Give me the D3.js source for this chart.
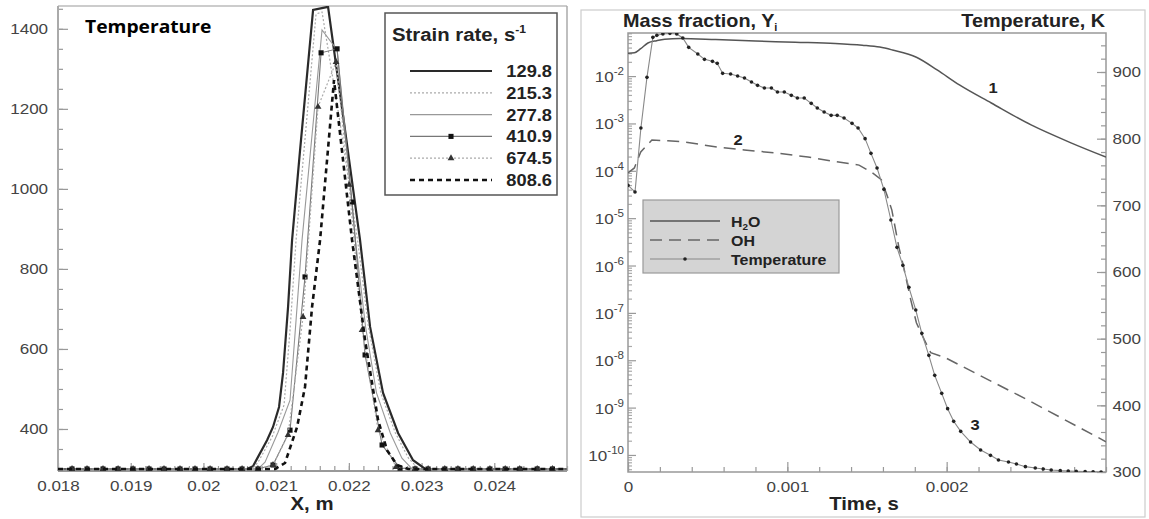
<!DOCTYPE html>
<html><head><meta charset="utf-8">
<script src="https://cdn.jsdelivr.net/npm/d3@7"></script>
<style>body{margin:0;background:#fff} svg{display:block}</style>
</head><body><svg id="c" width="1149" height="519"></svg>
<script>
// ================= DATA: left panel (Temperature vs X) =================
const strainRates = ["129.8","215.3","277.8","410.9","674.5","808.6"];
const sr1_x = [0.0180,0.0206,0.020682,0.020875,0.020957,0.02104,0.021095,0.021164,0.021219,0.021329,0.021508,0.021714,0.021934,0.022154,0.022292,0.02247,0.022677,0.022883,0.02305,0.0250];
const sr1_T = [300,300,307,372,405,455,540,705,872,1097,1447,1455,1165,872,655,490,390,322,300,300];
const sr2_x = [0.0180,0.020669,0.020751,0.020944,0.021109,0.021191,0.021274,0.021549,0.021631,0.021879,0.02212,0.02227,0.02244,0.02264,0.02282,0.02296,0.0250];
const sr2_T = [300,300,317,380,460,647,872,1437,1442,1165,872,655,490,390,327,300,300];
const sr3_x = [0.0180,0.020751,0.020847,0.021026,0.021191,0.021274,0.021356,0.021631,0.021838,0.02209,0.02223,0.02238,0.02257,0.02273,0.02287,0.0250];
const sr3_T = [300,300,317,392,472,672,872,1397,1347,872,655,490,390,327,300,300];
const sr4_x = [0.018193,0.018399,0.018619,0.018826,0.019032,0.019252,0.019458,0.019678,0.019884,0.020091,0.020324,0.020531,0.02075,0.020957,0.021191,0.021397,0.021618,0.021838,0.022044,0.022223,0.022457,0.022704,0.02291,0.02309,0.02332,0.0235,0.02371,0.02394,0.02415,0.02435,0.02459,0.0248];
const sr4_T = [300,300,300,300,300,300,300,300,300,300,300,300,300,310,397,780,1340,1350,967,585,360,302,300,300,300,300,300,300,300,300,300,300];
const sr5_x = [0.018193,0.018399,0.018619,0.018826,0.019032,0.019252,0.019458,0.019678,0.019884,0.020091,0.020324,0.020531,0.02075,0.020957,0.021164,0.02137,0.021576,0.021824,0.022003,0.022182,0.022402,0.022649,0.02291,0.02309,0.02332,0.0235,0.02371,0.02394,0.02415,0.02435,0.02459,0.0248];
const sr5_T = [300,300,300,300,300,300,300,300,300,300,300,300,300,310,385,680,1205,1317,1010,647,397,305,300,300,300,300,300,300,300,300,300,300];
const sr6_x = [0.0180,0.020985,0.021122,0.021288,0.021397,0.021494,0.021604,0.0217,0.021796,0.02192,0.022044,0.022223,0.022402,0.022525,0.022663,0.022814,0.0250];
const sr6_T = [300,300,315,405,505,705,872,1072,1272,1072,872,622,422,347,310,300,300];

const leftXTicks = [0.018,0.019,0.02,0.021,0.022,0.023,0.024];
const leftXTickLabels = ["0.018","0.019","0.02","0.021","0.022","0.023","0.024"];
const leftYTicks = [400,600,800,1000,1200,1400];

// ================= DATA: right panel (Mass fraction / Temperature vs time) =================
const h2o_t = [0,0.00004,0.00008,0.000125,0.00018,0.00023,0.00033,0.00055,0.0008,0.00105,0.0013,0.00147,0.00158,0.00166,0.00181,0.00194,0.00208,0.00228,0.00253,0.00278,0.003];
const h2o_Y = [3.05e-2,3.1e-2,3.8e-2,5.0e-2,5.6e-2,6.0e-2,6.2e-2,5.9e-2,5.5e-2,5.2e-2,4.9e-2,4.5e-2,4.1e-2,3.55e-2,2.5e-2,1.35e-2,6.5e-3,2.7e-3,9.3e-4,3.9e-4,1.95e-4];
const oh_t = [0,0.00004,0.00008,0.00015,0.00025,0.00035,0.00056,0.00073,0.00092,0.00113,0.00131,0.00145,0.00153,0.00159,0.001625,0.001656,0.0017,0.00173,0.001775,0.00181,0.00186,0.0019,0.001994,0.0025,0.003];
const oh_Y = [9e-5,1.15e-4,2.5e-4,4.47e-4,4.3e-4,4.1e-4,3.16e-4,2.75e-4,2.4e-4,1.95e-4,1.55e-4,1.32e-4,9.3e-5,6.5e-5,3.1e-5,1.48e-5,2.45e-6,9.3e-7,1.86e-7,6.2e-8,2.7e-8,1.45e-8,1.12e-8,1.5e-9,1.9e-10];
const temp_t = [0,0.000044,0.000081,0.000119,0.000156,0.000181,0.000219,0.000263,0.000306,0.000344,0.000381,0.000438,0.00048,0.00053,0.00056,0.000594,0.000644,0.000688,0.000731,0.000775,0.000813,0.000856,0.0009,0.000938,0.000981,0.001025,0.001063,0.001106,0.00115,0.001188,0.001231,0.001275,0.001313,0.001356,0.001406,0.001444,0.001488,0.001525,0.001563,0.001606,0.00165,0.001688,0.001725,0.001763,0.001806,0.001844,0.001888,0.001925,0.001969,0.002006,0.002044,0.002088,0.00215,0.002213,0.002275,0.002325,0.002388,0.002438,0.002494,0.002556,0.002606,0.002656,0.002713,0.002763,0.002813,0.002869,0.002919,0.002969];
const temp_T = [730,720,816,892,952,955,957,958,957,951,937,927,919,916,913,898,897,894,891,885,880,876,876,870,870,865,861,861,853,846,840,835,835,831,823,816,800,778,756,724,678,637,610,577,543,508,475,445,418,395,376,361,345,333,325,318,315,312,308,306,304.5,303,302,301.5,301,300.6,300.3,300.1];
const rightXTicks = [0,0.001,0.002];
const rightXTickLabels = ["0","0.001","0.002"];
const logTickExps = [-10,-9,-8,-7,-6,-5,-4,-3,-2];
const tempTicks = [300,400,500,600,700,800,900];
const speciesNames = ["H2O","OH","Temperature"];

// ================= DRAWING =================
const SX = 1.1;
const FONT = "'Liberation Sans', Arial, Helvetica, sans-serif";
const svg = d3.select("#c");

function addText(parent, x, y, str, size, weight, anchor, fill, family) {
  return parent.append("text")
    .attr("transform", `translate(${x},${y}) scale(${SX},1)`)
    .attr("text-anchor", anchor || "start")
    .style("font-family", family || FONT)
    .style("font-size", size + "px")
    .style("font-weight", weight || "normal")
    .style("fill", fill || "#222")
    .text(str);
}
function styleAxis(g, col) {
  g.select(".domain").remove();
  g.selectAll(".tick line").attr("stroke", col || "#999").attr("stroke-width", 1.2);
  g.selectAll(".tick text")
    .attr("transform", `scale(${SX},1)`)
    .style("font-family", FONT).style("font-size", "15.5px").style("fill", "#444");
}

// ---------------- Left panel ----------------
const xL = d3.scaleLinear().domain([0.018, 0.025]).range([58, 567]);
const yL = d3.scaleLinear().domain([295, 1457]).range([471, 6]);
const gL = svg.append("g");

gL.append("clipPath").attr("id", "clipL").append("rect")
  .attr("x", 58).attr("y", 6).attr("width", 509).attr("height", 465);

// axes
const minorYL = d3.range(300, 1451, 50);
styleAxis(gL.append("g").attr("transform", "translate(58,0)")
  .call(d3.axisLeft(yL).tickValues(minorYL).tickSize(-5).tickFormat("")));
styleAxis(gL.append("g").attr("transform", "translate(58,0)")
  .call(d3.axisLeft(yL).tickValues(leftYTicks).tickSize(-10).tickPadding(9).tickFormat(d3.format("d"))));
const minorXL = d3.range(0, 36).map(i => 0.018 + i * 0.0002);
styleAxis(gL.append("g").attr("transform", "translate(0,471)")
  .call(d3.axisBottom(xL).tickValues(minorXL).tickSize(-5).tickFormat("")));
const axXL = gL.append("g").attr("transform", "translate(0,471)")
  .call(d3.axisBottom(xL).tickValues(leftXTicks).tickSize(-8).tickPadding(9)
    .tickFormat((d, i) => leftXTickLabels[i]));
styleAxis(axXL);

// frame
gL.append("line").attr("x1", 58).attr("x2", 567).attr("y1", 6).attr("y2", 6).attr("stroke", "#bbb").attr("stroke-width", 1.5);
gL.append("line").attr("x1", 567).attr("x2", 567).attr("y1", 6).attr("y2", 471).attr("stroke", "#aaa").attr("stroke-width", 1.5);
gL.append("line").attr("x1", 58).attr("x2", 58).attr("y1", 6).attr("y2", 471).attr("stroke", "#aaa").attr("stroke-width", 2);
gL.append("line").attr("x1", 58).attr("x2", 567).attr("y1", 471).attr("y2", 471).attr("stroke", "#999").attr("stroke-width", 2);

const leftSeries = [
  {x: sr1_x, y: sr1_T, stroke: "#2a2a2a", w: 2.2, dash: null, marker: null},
  {x: sr2_x, y: sr2_T, stroke: "#aaaaaa", w: 1.2, dash: "2,2", marker: null},
  {x: sr3_x, y: sr3_T, stroke: "#999999", w: 1.1, dash: null, marker: null},
  {x: sr4_x, y: sr4_T, stroke: "#777777", w: 1.1, dash: null, marker: "square"},
  {x: sr5_x, y: sr5_T, stroke: "#aaaaaa", w: 1.2, dash: "2,2", marker: "triangle"},
  {x: sr6_x, y: sr6_T, stroke: "#111111", w: 2.6, dash: "5,4", marker: null}
];
const lineL = d3.line().x(d => xL(d[0])).y(d => yL(d[1]));
const plotL = gL.append("g").attr("clip-path", "url(#clipL)");
const symSq = d3.symbol().type(d3.symbolSquare).size(26);
const symTr = d3.symbol().type(d3.symbolTriangle).size(20);
leftSeries.forEach(s => {
  const pts = s.x.map((v, i) => [v, s.y[i]]);
  plotL.append("path").datum(pts).attr("d", lineL)
    .attr("fill", "none").attr("stroke", s.stroke).attr("stroke-width", s.w)
    .attr("stroke-dasharray", s.dash);
  if (s.marker) {
    plotL.selectAll(null).data(pts).enter().append("path")
      .attr("d", s.marker === "square" ? symSq : symTr)
      .attr("transform", d => `translate(${xL(d[0])},${yL(d[1])})`)
      .attr("fill", s.marker === "square" ? "#111" : "#333");
  }
});

addText(gL, 85, 33, "Temperature", 17.5, "bold", "start", "#000", "'Open Sans', 'Noto Sans', sans-serif");
addText(gL, 312, 510, "X, m", 18.5, "bold", "middle", "#222");

// legend left
const lg = gL.append("g");
lg.append("rect").attr("x", 385).attr("y", 13).attr("width", 172).attr("height", 182)
  .attr("fill", "#fff").attr("stroke", "#555").attr("stroke-width", 1.5);
const ttl = addText(lg, 392, 41, "Strain rate, s", 18.5, "bold", "start", "#222");
ttl.append("tspan").attr("dy", -8).style("font-size", "11px").text("-1");
strainRates.forEach((r, i) => {
  const yy = 71 + i * 21.8;
  const s = leftSeries[i];
  lg.append("line").attr("x1", 410).attr("x2", 492).attr("y1", yy).attr("y2", yy)
    .attr("stroke", s.stroke).attr("stroke-width", s.w).attr("stroke-dasharray", s.dash);
  if (s.marker) {
    lg.append("path").attr("d", s.marker === "square" ? symSq : symTr)
      .attr("transform", `translate(451,${yy})`).attr("fill", s.marker === "square" ? "#111" : "#333");
  }
  addText(lg, 552, yy + 6, r, 16.6, "bold", "end", "#222");
});

// ---------------- Right panel ----------------
const gR = svg.append("g");
gR.append("rect").attr("x", 581).attr("y", 10).attr("width", 564).attr("height", 507)
  .attr("fill", "none").attr("stroke", "#ccc").attr("stroke-width", 1.2);

const xR = d3.scaleLinear().domain([0, 0.003]).range([628, 1106]);
const yLog = d3.scaleLog().domain([Math.pow(10, -10.36), Math.pow(10, -1.09)]).range([472, 33]);
const yT = d3.scaleLinear().domain([300, 958.5]).range([472, 33]);

gR.append("clipPath").attr("id", "clipR").append("rect")
  .attr("x", 628).attr("y", 33).attr("width", 478).attr("height", 439);

// log minor ticks
const logMinor = [];
for (let e = -11; e <= -1; e++) for (let m = 2; m <= 9; m++) {
  const v = m * Math.pow(10, e);
  if (v > yLog.domain()[0] && v < yLog.domain()[1]) logMinor.push(v);
}
styleAxis(gR.append("g").attr("transform", "translate(628,0)")
  .call(d3.axisLeft(yLog).tickValues(logMinor).tickSize(-4).tickFormat("")), "#aaa");
const majVals = logTickExps.map(e => Math.pow(10, e));
styleAxis(gR.append("g").attr("transform", "translate(628,0)")
  .call(d3.axisLeft(yLog).tickValues(majVals).tickSize(-8).tickFormat("")));
logTickExps.forEach(e => {
  const t = addText(gR, 624, yLog(Math.pow(10, e)) + 6, "10", 15.5, "normal", "end", "#444");
  t.append("tspan").attr("dy", -7).style("font-size", "10.5px").text(String(e));
});

// right T axis
const tMinor = d3.range(300, 951, 20);
styleAxis(gR.append("g").attr("transform", "translate(1106,0)")
  .call(d3.axisRight(yT).tickValues(tMinor).tickSize(-5).tickFormat("")));
styleAxis(gR.append("g").attr("transform", "translate(1106,0)")
  .call(d3.axisRight(yT).tickValues(tempTicks).tickSize(-9).tickPadding(6).tickFormat(d3.format("d"))));

// x axis
const minorXR = d3.range(0, 16).map(i => i * 0.0002);
styleAxis(gR.append("g").attr("transform", "translate(0,472)")
  .call(d3.axisBottom(xR).tickValues(minorXR).tickSize(-5).tickFormat("")));
styleAxis(gR.append("g").attr("transform", "translate(0,472)")
  .call(d3.axisBottom(xR).tickValues(rightXTicks).tickSize(-10).tickPadding(9)
    .tickFormat((d, i) => rightXTickLabels[i])));

// frame
gR.append("rect").attr("x", 628).attr("y", 33).attr("width", 478).attr("height", 439)
  .attr("fill", "none").attr("stroke", "#999").attr("stroke-width", 1.5);

const plotR = gR.append("g").attr("clip-path", "url(#clipR)");
const h2oPts = h2o_t.map((t, i) => [t, h2o_Y[i]]);
const ohPts = oh_t.map((t, i) => [t, oh_Y[i]]);
const tPts = temp_t.map((t, i) => [t, temp_T[i]]);
const lineLogSmooth = d3.line().x(d => xR(d[0])).y(d => yLog(d[1])).curve(d3.curveMonotoneX);
const lineLog = d3.line().x(d => xR(d[0])).y(d => yLog(d[1]));
const lineTemp = d3.line().x(d => xR(d[0])).y(d => yT(d[1]));
plotR.append("path").datum(h2oPts).attr("d", lineLogSmooth).attr("fill", "none")
  .attr("stroke", "#555").attr("stroke-width", 1.5);
plotR.append("path").datum(ohPts).attr("d", lineLog).attr("fill", "none")
  .attr("stroke", "#666").attr("stroke-width", 1.5).attr("stroke-dasharray", "12,7");
plotR.append("path").datum(tPts).attr("d", lineTemp).attr("fill", "none")
  .attr("stroke", "#888").attr("stroke-width", 1.1);
plotR.selectAll(null).data(tPts).enter().append("circle")
  .attr("cx", d => xR(d[0])).attr("cy", d => yT(d[1])).attr("r", 1.8).attr("fill", "#222");

// titles
const mf = addText(gR, 623, 27, "Mass fraction, Y", 18, "bold", "start", "#222");
mf.append("tspan").attr("dy", 4).style("font-size", "10px").text("i");
addText(gR, 1105, 27, "Temperature, K", 18, "bold", "end", "#222");
addText(gR, 864, 510, "Time, s", 18.5, "bold", "middle", "#222");
addText(gR, 993, 93, "1", 15, "bold", "middle", "#222");
addText(gR, 738, 145, "2", 15, "bold", "middle", "#222");
addText(gR, 975, 430, "3", 15, "bold", "middle", "#222");

// legend right
const lgR = gR.append("g");
lgR.append("rect").attr("x", 643).attr("y", 200).attr("width", 196).attr("height", 73)
  .attr("fill", "#d4d4d4").attr("stroke", "#999").attr("stroke-width", 1.2);
const legRowsY = [221, 240, 259];
lgR.append("line").attr("x1", 650).attr("x2", 720).attr("y1", legRowsY[0]).attr("y2", legRowsY[0])
  .attr("stroke", "#555").attr("stroke-width", 1.5);
lgR.append("line").attr("x1", 650).attr("x2", 720).attr("y1", legRowsY[1]).attr("y2", legRowsY[1])
  .attr("stroke", "#666").attr("stroke-width", 1.5).attr("stroke-dasharray", "12,7");
lgR.append("line").attr("x1", 650).attr("x2", 720).attr("y1", legRowsY[2]).attr("y2", legRowsY[2])
  .attr("stroke", "#888").attr("stroke-width", 1.1);
lgR.append("circle").attr("cx", 685).attr("cy", legRowsY[2]).attr("r", 1.8).attr("fill", "#222");
const h2oLab = addText(lgR, 731, legRowsY[0] + 6, "H", 14.5, "bold", "start", "#222");
h2oLab.append("tspan").attr("dy", 3).style("font-size", "9px").text("2");
h2oLab.append("tspan").attr("dy", -3).text("O");
addText(lgR, 731, legRowsY[1] + 6, speciesNames[1], 14.5, "bold", "start", "#222");
addText(lgR, 731, legRowsY[2] + 6, speciesNames[2], 14.5, "bold", "start", "#222");
</script></body></html>
